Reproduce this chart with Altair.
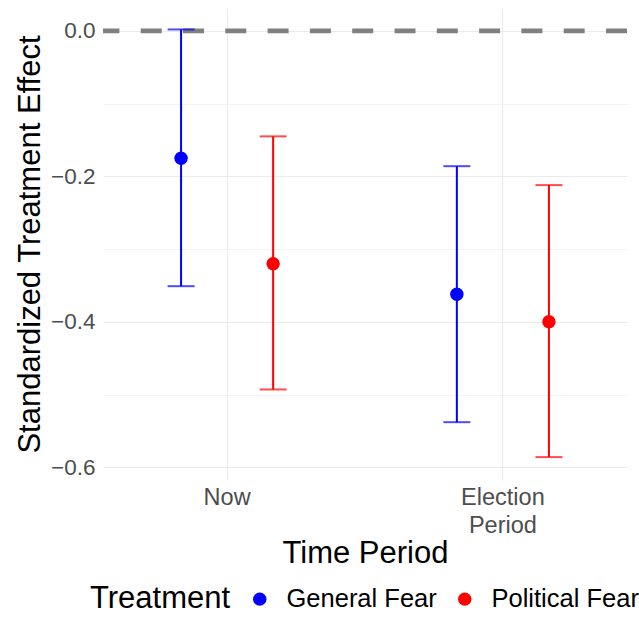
import altair as alt
import pandas as pd

periods = ["Now", "Now", "Election Period", "Election Period"]
treatments = ["General Fear", "Political Fear", "General Fear", "Political Fear"]
estimates = [-0.175, -0.320, -0.362, -0.400]
lower = [-0.351, -0.493, -0.538, -0.586]
upper = [0.002, -0.145, -0.186, -0.212]
period_order = ["Now", "Election Period"]
treatment_order = ["General Fear", "Political Fear"]
treatment_colors = ["#0000FF", "#FF0000"]
y_ticks = [0.0, -0.1, -0.2, -0.3, -0.4, -0.5, -0.6]
ref_line = [0.0]

df = pd.DataFrame({
    "period": periods,
    "treatment": treatments,
    "estimate": estimates,
    "lower": lower,
    "upper": upper,
})
ref_df = pd.DataFrame({"y": ref_line})

FONT = "Liberation Sans"

x_enc = alt.X(
    "period:N",
    sort=period_order,
    scale=alt.Scale(paddingInner=0.1, paddingOuter=0.0),
    axis=alt.Axis(
        title="Time Period",
        titleFontSize=31,
        titleFontWeight="normal",
        titleColor="#000000",
        titleFont=FONT,
        titleBaseline="alphabetic",
        titleY=82,
        labelFont=FONT,
        labelFontSize=23.5,
        labelColor="#4D4D4D",
        labelAngle=0,
        labelPadding=5,
        labelBaseline="top",
        labelLineHeight=28,
        labelExpr="split(datum.label, ' ')",
        ticks=False,
        domain=False,
        grid=True,
        gridColor="#EBEBEB",
        gridWidth=1.1,
        bandPosition=0.5,
    ),
)
xoff = alt.XOffset(
    "treatment:N",
    sort=treatment_order,
    scale=alt.Scale(paddingInner=0.0, paddingOuter=0.348),
)
y_scale = alt.Scale(domain=[-0.6175, 0.0315], nice=False, zero=False)
y_axis = alt.Axis(
    title="Standardized Treatment Effect",
    titleFontSize=31,
    titleFontWeight="normal",
    titleColor="#000000",
    titleFont=FONT,
    titleBaseline="alphabetic",
    titleAlign="center",
    titleAngle=-90,
    titleX=-64,
    titleY=236,
    values=y_ticks,
    labelExpr="round(datum.value*10) % 2 == 0 ? format(datum.value, '.1f') : ''",
    labelFont=FONT,
    labelFontSize=22.5,
    labelColor="#4D4D4D",
    labelPadding=8,
    ticks=False,
    domain=False,
    grid=True,
    gridColor={"condition": {"test": "round(datum.value*10) % 2 != 0", "value": "#F0F0F0"}, "value": "#EBEBEB"},
    gridWidth={"condition": {"test": "round(datum.value*10) % 2 != 0", "value": 0.8}, "value": 1.1},
)
color_enc = alt.Color(
    "treatment:N",
    sort=treatment_order,
    scale=alt.Scale(domain=treatment_order, range=treatment_colors),
    legend=alt.Legend(
        title="Treatment",
        orient="none",
        direction="horizontal",
        legendX=-13,
        legendY=578,
        titleOrient="left",
        titleFont=FONT,
        titleFontSize=31,
        titleFontWeight="normal",
        titleColor="#000000",
        titlePadding=16,
        titleBaseline="middle",
        labelFont=FONT,
        labelFontSize=25.5,
        labelColor="#000000",
        labelOffset=14,
        symbolType="circle",
        symbolSize=180,
        symbolOpacity=1,
        symbolStrokeWidth=0,
        columnPadding=15,
    ),
)

ref = alt.Chart(ref_df).mark_rule(
    color="#808080", strokeWidth=4.6, strokeDash=[21, 21.3]
).encode(y=alt.Y("y:Q", scale=y_scale, axis=y_axis))

base = alt.Chart(df)

bars = base.mark_rule(strokeWidth=2).encode(
    x=x_enc,
    xOffset=xoff,
    y=alt.Y("lower:Q", scale=y_scale, axis=y_axis),
    y2="upper:Q",
    color=color_enc,
)
cap_hi = base.mark_tick(orient="horizontal", size=27, thickness=2).encode(
    x=x_enc, xOffset=xoff, y=alt.Y("upper:Q", scale=y_scale), color=color_enc
)
cap_lo = base.mark_tick(orient="horizontal", size=27, thickness=2).encode(
    x=x_enc, xOffset=xoff, y=alt.Y("lower:Q", scale=y_scale), color=color_enc
)
pts = base.mark_circle(size=180, opacity=1).encode(
    x=x_enc, xOffset=xoff, y=alt.Y("estimate:Q", scale=y_scale), color=color_enc
)

chart = alt.layer(ref, bars, cap_hi, cap_lo, pts).properties(
    width=524,
    height=472,
    background="white",
    autosize=alt.AutoSizeParams(type="none"),
    padding={"left": 103, "top": 8, "right": 12, "bottom": 138},
).configure_view(strokeWidth=0, stroke=None)

chart.save("out.html", embed_options={"renderer": "svg", "actions": False})
